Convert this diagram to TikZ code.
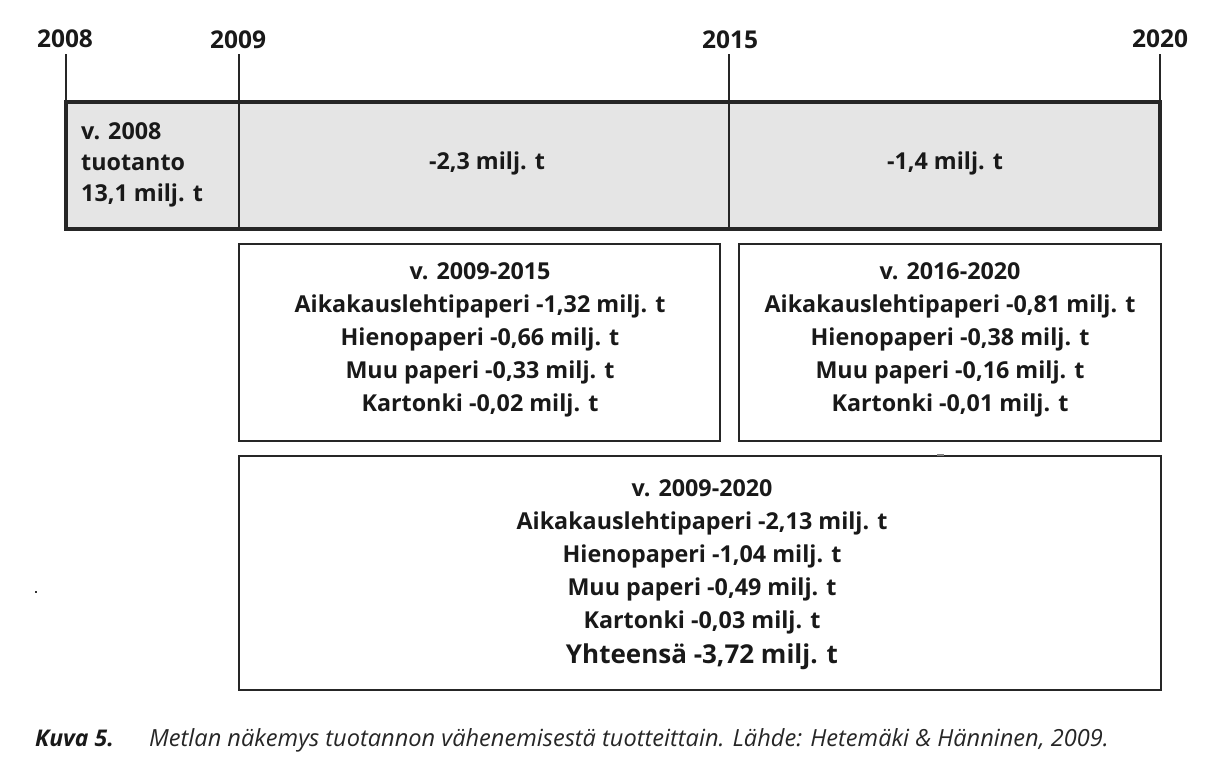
\documentclass[tikz,border=0pt]{standalone}
\usepackage{fontspec}
\setmainfont{Open Sans}
\begin{document}
\begin{tikzpicture}[x=1pt,y=-1pt,
  yearlbl/.style={font=\bfseries\fontsize{24.5}{26}\selectfont, text=black!90, inner sep=0pt, anchor=base},
  boxtxt/.style={font=\bfseries\fontsize{23.3}{33}\selectfont, text=black!90, align=center, inner sep=0pt},
  thinline/.style={line width=1.3pt, draw=black!85},
  plainbox/.style={line width=1.3pt, draw=black!85}]
\useasboundingbox (0,0) rectangle (1213,771);
% year labels
\node[yearlbl] (y2008) at (65,47) {2008};
\node[yearlbl] (y2009) at (238,48.5) {2009};
\node[yearlbl] (y2015) at (730,48.5) {2015};
\node[yearlbl] (y2020) at (1160,47) {2020};
% top grey box
\fill[black!10] (66,102) rectangle (1160,229);
\coordinate (t2008) at (66,54);
\coordinate (b2008) at (66,102);
\coordinate (t2009) at (239,54);
\coordinate (b2009) at (239,229);
\coordinate (t2015) at (729,54);
\coordinate (b2015) at (729,229);
\coordinate (t2020) at (1160,54);
\coordinate (b2020) at (1160,102);
\draw[thinline] (t2008) -- (b2008);
\draw[thinline] (t2009) -- (b2009);
\draw[thinline] (t2015) -- (b2015);
\draw[thinline] (t2020) -- (b2020);
\draw[line width=4.2pt, draw=black!85] (66,102) rectangle (1160,229);
\node[boxtxt, font=\bfseries\fontsize{23.3}{31}\selectfont, align=left, anchor=west] (prod) at (81,165) {v. 2008\\tuotanto\\13,1 milj. t};
\node[boxtxt] (d1) at (487,163) {-2,3 milj. t};
\node[boxtxt] (d2) at (945,163) {-1,4 milj. t};
% lower boxes
\draw[plainbox] (239,244) rectangle (720,441);
\node[boxtxt] (p1) at (480,340) {v. 2009-2015\\Aikakauslehtipaperi -1,32 milj. t\\Hienopaperi -0,66 milj. t\\Muu paperi -0,33 milj. t\\Kartonki -0,02 milj. t};
\draw[plainbox] (739,244) rectangle (1161,441);
\node[boxtxt] (p2) at (950,340) {v. 2016-2020\\Aikakauslehtipaperi -0,81 milj. t\\Hienopaperi -0,38 milj. t\\Muu paperi -0,16 milj. t\\Kartonki -0,01 milj. t};
\draw[plainbox] (239,456) rectangle (1161,690);
\node[boxtxt] (p3) at (702,557) {v. 2009-2020\\Aikakauslehtipaperi -2,13 milj. t\\Hienopaperi -1,04 milj. t\\Muu paperi -0,49 milj. t\\Kartonki -0,03 milj. t};
\node[boxtxt, font=\bfseries\fontsize{26}{28}\selectfont] (tot) at (702,657) {Yhteensä -3,72 milj. t};
% stray marks
\fill[black!50] (937,454) rectangle (944,456);
\fill[black!80] (35,591) rectangle (37,593);
% caption
\node[anchor=base west, inner sep=0pt, font=\bfseries\itshape\fontsize{23}{25}\selectfont, text=black!90] (kuva) at (35,746) {Kuva 5.};
\node[anchor=base west, inner sep=0pt, font=\itshape\fontsize{23.6}{25}\selectfont, text=black!85] (cap) at (149,746) {Metlan näkemys tuotannon vähenemisestä tuotteittain. Lähde: Hetemäki \& Hänninen, 2009.};
\end{tikzpicture}
\end{document}
